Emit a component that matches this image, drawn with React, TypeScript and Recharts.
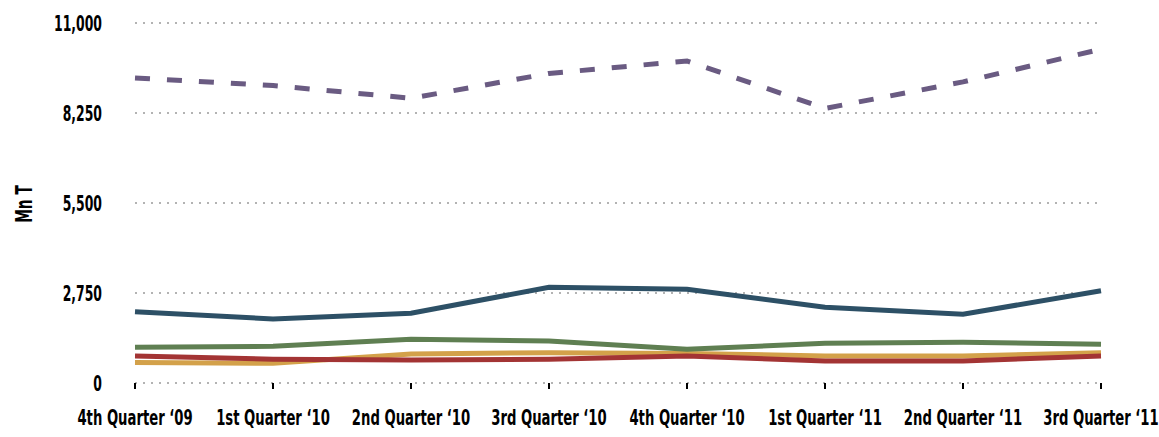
import React from "react";
import { LineChart, Line, XAxis, YAxis, CartesianGrid } from "recharts";

const quarters = [
  "4th Quarter \u201809",
  "1st Quarter \u201810",
  "2nd Quarter \u201810",
  "3rd Quarter \u201810",
  "4th Quarter \u201810",
  "1st Quarter \u201811",
  "2nd Quarter \u201811",
  "3rd Quarter \u201811",
];

const totalSeries = [9320, 9090, 8700, 9460, 9840, 8390, 9200, 10200];
const blueSeries = [2180, 1955, 2130, 2925, 2865, 2315, 2100, 2820];
const greenSeries = [1090, 1120, 1335, 1285, 1030, 1215, 1245, 1185];
const redSeries = [825, 725, 705, 725, 825, 675, 675, 825];
const goldSeries = [630, 600, 885, 925, 905, 825, 825, 925];

const yTicks = [0, 2750, 5500, 8250, 11000];

const data = quarters.map((q, i) => ({
  quarter: q,
  total: totalSeries[i],
  blue: blueSeries[i],
  green: greenSeries[i],
  red: redSeries[i],
  gold: goldSeries[i],
}));

const FONT = "'DejaVu Sans', sans-serif";

// Condensed-looking labels: bold glyphs squeezed horizontally.
const XTick = (props: any) => {
  const { x, y, payload } = props;
  return (
    <g transform={`translate(${x},${y})`}>
      <text
        transform="scale(0.6,1)"
        x={0}
        y={36}
        textAnchor="middle"
        fill="#000"
        fontSize={22}
        fontWeight="bold"
        fontFamily={FONT}
      >
        {payload.value}
      </text>
    </g>
  );
};

const YTick = (props: any) => {
  const { x, y, payload } = props;
  return (
    <g transform={`translate(${x},${y})`}>
      <text
        transform="scale(0.565,1)"
        x={0}
        y={8}
        textAnchor="end"
        fill="#000"
        fontSize={22}
        fontWeight="bold"
        fontFamily={FONT}
      >
        {Number(payload.value).toLocaleString("en-US")}
      </text>
    </g>
  );
};

const UnitLabel = () => (
  <text
    transform="translate(32,204) rotate(-90) scale(0.6,1)"
    textAnchor="middle"
    fill="#000"
    fontSize={23}
    fontWeight="bold"
    fontFamily={FONT}
  >
    Mn T
  </text>
);

export default function App() {
  return (
    <div style={{ position: "absolute", left: 0, top: 0, width: 1159, height: 437, background: "#fff" }}>
      <LineChart
        width={1159}
        height={437}
        data={data}
        margin={{ top: 23, right: 58, bottom: 0, left: 55 }}
      >
        <CartesianGrid
          horizontal={true}
          vertical={false}
          stroke="#b3b3b3"
          strokeWidth={2}
          strokeDasharray="2 6"
        />
        <XAxis
          dataKey="quarter"
          height={54}
          axisLine={false}
          tickLine={{ stroke: "#000", strokeWidth: 2 }}
          tickSize={6}
          tickMargin={0}
          interval={0}
          tick={<XTick />}
        />
        <YAxis
          width={80}
          domain={[0, 11000]}
          ticks={yTicks}
          axisLine={false}
          tickLine={false}
          tickSize={0}
          tickMargin={33}
          tick={<YTick />}
          label={<UnitLabel />}
        />
        <Line dataKey="gold" stroke="#d3a14a" strokeWidth={5} dot={false} isAnimationActive={false} />
        <Line dataKey="red" stroke="#a33434" strokeWidth={5} dot={false} isAnimationActive={false} />
        <Line dataKey="green" stroke="#5f7f52" strokeWidth={5} dot={false} isAnimationActive={false} />
        <Line dataKey="blue" stroke="#2d5066" strokeWidth={5} dot={false} isAnimationActive={false} />
        <Line
          dataKey="total"
          stroke="#6a5b82"
          strokeWidth={5}
          strokeDasharray="15 17"
          dot={false}
          isAnimationActive={false}
        />
      </LineChart>
    </div>
  );
}
